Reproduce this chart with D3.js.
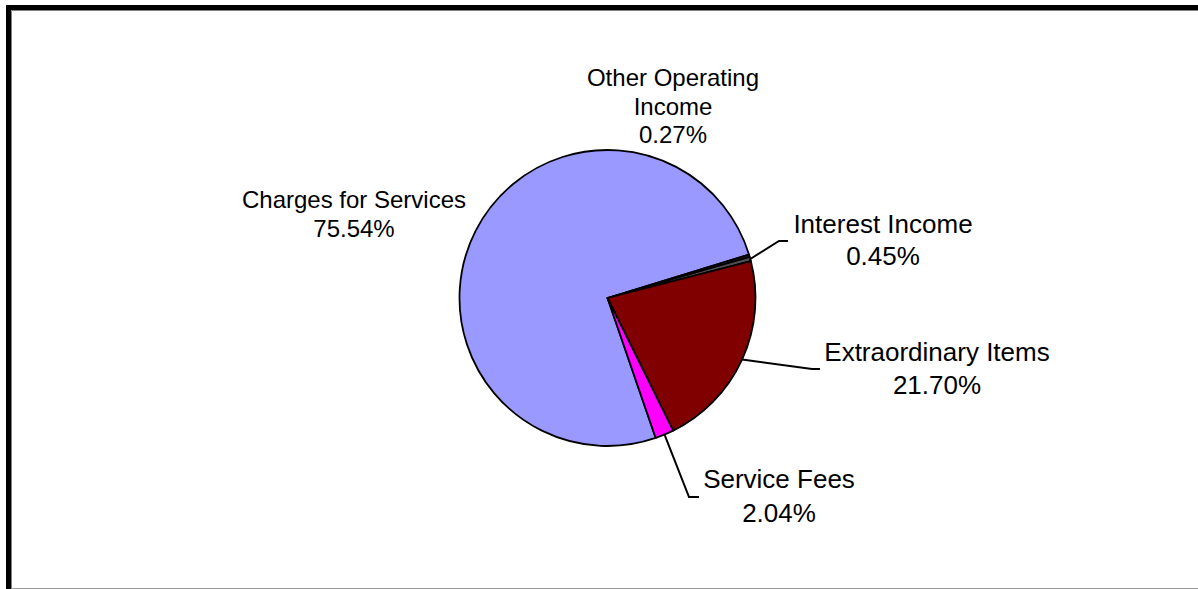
<!DOCTYPE html>
<html>
<head>
<meta charset="utf-8">
<script src="https://cdn.jsdelivr.net/npm/d3@7"></script>
<style>
  body { margin: 0; background: #fff; }
  text { font-family: "Liberation Sans", Arial, sans-serif; fill: #000; }
</style>
</head>
<body>
<div id="chart"></div>
<script>
// slice names and shares, in the order they go round the pie
var categories = ["Charges for Services", "Other Operating Income", "Interest Income", "Extraordinary Items", "Service Fees"];
var values = [75.54, 0.27, 0.45, 21.70, 2.04];
var colors = ["#9999ff", "#202020", "#505050", "#800000", "#ff00ff"];

// where the labels sit (layout only): text lines, centre x, first baseline, font size, line step
// and the elbow / end of the leader line, if the label has one
var labelLayout = {
  "Charges for Services":   { lines: ["Charges for Services", "75.54%"], x: 354, y: 208, size: 24, step: 29 },
  "Other Operating Income": { lines: ["Other Operating", "Income", "0.27%"], x: 673, y: 86, size: 24, step: 28.5 },
  "Interest Income":        { lines: ["Interest Income", "0.45%"], x: 883, y: 233, size: 26, step: 31.5, elbow: [779, 241], end: [788, 241] },
  "Extraordinary Items":    { lines: ["Extraordinary Items", "21.70%"], x: 937, y: 361, size: 26, step: 33, elbow: [812, 369], end: [820, 369] },
  "Service Fees":           { lines: ["Service Fees", "2.04%"], x: 779, y: 488, size: 26, step: 33.5, elbow: [689, 497], end: [699, 497] }
};

var w = 1198, h = 589;
var cx = 607.5, cy = 298, r = 148;
var startDeg = -199; // angle where the first slice starts

var svg = d3.select("#chart").append("svg")
  .attr("width", w)
  .attr("height", h);

// chart frame: thick black top/left, thin grey inside and along the bottom
svg.append("path")
  .attr("d", "M8.5," + h + "V7.5H" + (w + 5))
  .attr("fill", "none")
  .attr("stroke", "#000")
  .attr("stroke-width", 5);
svg.append("path")
  .attr("d", "M11.5," + h + "V10.5H" + (w + 5))
  .attr("fill", "none")
  .attr("stroke", "#808080")
  .attr("stroke-width", 1);
svg.append("line")
  .attr("x1", 11).attr("x2", w)
  .attr("y1", 588.5).attr("y2", 588.5)
  .attr("stroke", "#9a9a9a")
  .attr("stroke-width", 1);

var data = categories.map(function(c, i) { return { name: c, value: values[i], color: colors[i] }; });

var pie = d3.pie()
  .sort(null)
  .value(function(d) { return d.value; })
  .startAngle(startDeg * Math.PI / 180)
  .endAngle(startDeg * Math.PI / 180 + 2 * Math.PI);

var arc = d3.arc().innerRadius(0).outerRadius(r);

var g = svg.append("g").attr("transform", "translate(" + cx + "," + cy + ")");
var arcs = pie(data);

g.selectAll("path.slice")
  .data(arcs)
  .enter().append("path")
  .attr("class", "slice")
  .attr("d", arc)
  .attr("fill", function(d) { return d.data.color; })
  .attr("stroke", "#000")
  .attr("stroke-width", 1.8)
  .attr("stroke-linejoin", "round");

// leader lines from the middle of the slice edge to the label
arcs.forEach(function(d) {
  var lay = labelLayout[d.data.name];
  if (!lay.elbow) return;
  var mid = (d.startAngle + d.endAngle) / 2;
  var px = cx + r * Math.sin(mid), py = cy - r * Math.cos(mid);
  svg.append("polyline")
    .attr("points", [[px, py], lay.elbow, lay.end].map(function(p) { return p.join(","); }).join(" "))
    .attr("fill", "none")
    .attr("stroke", "#000")
    .attr("stroke-width", 2);
});

// labels
arcs.forEach(function(d) {
  var lay = labelLayout[d.data.name];
  var t = svg.append("text")
    .attr("text-anchor", "middle")
    .style("font-size", lay.size + "px");
  lay.lines.forEach(function(line, i) {
    t.append("tspan")
      .attr("x", lay.x)
      .attr("y", lay.y + i * lay.step)
      .text(line);
  });
});
</script>
</body>
</html>
